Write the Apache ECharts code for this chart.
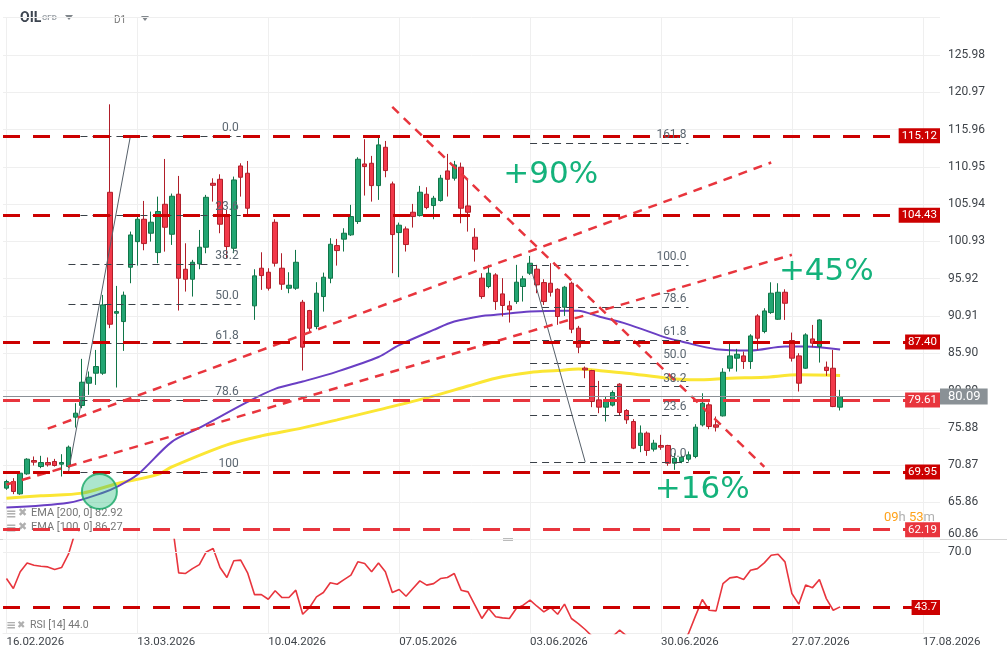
<!DOCTYPE html>
<html><head><meta charset="utf-8">
<script src="https://cdn.jsdelivr.net/npm/echarts@6/dist/echarts.min.js"></script>
<style>html,body{margin:0;padding:0;background:#fff}#c{width:1007px;height:659px}</style>
</head><body><div id="c"></div>
<script>
// ---------------- data ----------------
const priceTicks = ['60.86','65.86','70.87','75.88','80.89','85.90','90.91','95.92','100.93','105.94','110.95','115.96','120.97','125.98'];
const dateLabels = ['16.02.2026','13.03.2026','10.04.2026','07.05.2026','03.06.2026','30.06.2026','27.07.2026','17.08.2026'];
const barCount = 136;
// [open, close, low, high]
const ohlc = [
[67.78,68.67,67.55,68.90],[68.67,67.33,66.97,69.12],[67.01,69.79,66.88,69.92],[69.70,71.67,69.57,71.80],
[71.49,71.27,70.82,72.03],[70.68,71.22,70.46,72.12],[71.22,70.91,70.68,71.90],[71.36,70.82,70.68,71.71],
[71.00,71.22,69.34,72.34],[70.68,73.28,70.46,73.50],[77.31,77.85,75.92,79.19],[78.88,82.01,78.52,85.15],
[81.88,82.68,80.31,83.45],[83.22,84.12,81.65,86.35],[83.22,92.40,83.00,93.74],[107.53,89.80,89.27,119.35],
[91.28,91.50,81.30,94.95],[90.16,93.70,86.22,94.19],[97.46,101.80,95.31,102.25],[100.90,103.91,97.68,104.49],
[103.91,100.64,99.74,106.37],[102.03,103.51,100.90,104.94],[99.43,104.94,98.00,106.95],[105.92,102.83,99.56,112.01],
[101.89,107.00,100.46,107.36],[107.27,95.98,91.64,109.73],[97.19,95.85,94.19,100.68],[95.85,98.13,93.52,98.45],
[97.91,100.15,97.19,102.47],[100.15,106.86,99.34,107.18],[108.74,108.47,106.28,109.41],[109.28,103.24,102.03,109.95],
[104.27,100.24,98.67,105.16],[100.01,109.19,99.34,109.64],[111.07,109.55,106.95,111.43],[110.09,105.39,104.49,111.74],
[92.27,96.30,90.39,97.19],[97.33,96.34,94.42,99.47],[96.79,94.64,94.33,97.33],[103.50,98.00,97.55,103.90],
[97.33,95.18,94.42,99.34],[94.64,95.04,93.97,96.79],[94.64,98.13,94.42,99.79],[92.76,86.72,83.58,93.07],
[91.64,89.27,88.82,91.73],[89.49,93.97,89.13,95.45],[93.52,96.12,91.50,96.74],[95.98,100.55,95.31,101.36],
[100.37,99.70,97.68,101.27],[101.23,102.03,99.57,102.70],[101.81,104.27,101.67,105.84],[103.60,111.97,103.28,112.24],
[111.34,110.99,107.09,114.66],[111.43,108.43,106.28,112.42],[108.43,113.90,106.51,114.93],[113.58,110.45,109.55,114.43],
[108.66,101.85,96.66,108.97],[102.12,103.11,96.12,103.46],[102.61,100.51,99.57,102.93],[104.85,104.27,102.79,105.97],
[104.40,107.54,104.27,108.39],[107.27,105.48,105.25,108.21],[105.75,106.73,103.91,107.05],[106.42,109.42,106.28,109.87],
[110.40,109.28,106.96,112.69],[109.42,111.21,109.10,111.75],[110.90,105.39,103.37,111.52],[105.70,104.85,102.25,109.20],
[101.49,99.88,98.22,102.70],[95.99,93.52,93.21,96.66],[94.87,96.66,94.64,97.78],[96.43,92.85,91.73,96.66],
[93.88,92.32,90.84,95.99],[92.27,91.73,90.03,92.94],[92.85,95.45,92.54,97.78],[94.87,95.90,92.85,96.30],
[96.66,98.00,96.43,98.98],[97.20,95.09,93.97,97.78],[95.40,92.85,92.40,95.85],[95.31,94.10,93.52,98.00],
[94.50,90.84,89.72,94.64],[92.09,94.78,90.92,94.95],[95.31,89.13,88.60,95.54],[89.27,86.72,85.91,89.58],
[83.90,83.67,82.55,84.12],[83.58,79.42,78.66,83.67],[79.64,78.66,77.85,82.19],[78.66,79.55,76.73,80.09],
[78.93,80.63,78.75,80.90],[81.75,77.94,77.49,81.88],[78.21,76.96,76.42,78.39],[76.73,73.15,73.02,77.05],
[73.51,75.17,72.61,76.20],[75.17,72.84,72.12,75.39],[73.02,73.82,72.70,74.27],[73.51,73.28,72.93,74.94],
[73.51,71.13,70.78,73.60],[71.13,71.80,70.24,72.48],[71.36,71.94,71.13,72.25],[71.67,72.25,71.36,72.70],
[72.03,75.97,71.80,76.37],[76.28,79.19,76.06,80.53],[78.97,76.06,75.70,79.28],[76.28,75.97,75.39,77.40],
[77.49,83.35,77.40,83.89],[83.89,85.55,83.44,87.47],[85.24,85.77,83.44,86.49],[85.55,84.79,83.80,86.13],
[84.79,88.23,83.80,88.46],[90.92,87.92,86.35,91.15],[88.82,91.59,88.59,91.95],[91.37,93.97,91.19,95.44],
[90.47,94.10,90.38,95.31],[94.10,92.62,90.38,94.50],[87.61,85.24,84.79,88.68],[85.55,81.88,80.76,85.91],
[83.89,88.37,83.80,88.59],[87.83,87.25,86.71,89.71],[86.80,90.38,84.65,90.47],[84.03,83.58,82.86,84.79],
[83.89,78.74,78.66,86.35],[78.66,80.09,78.21,80.98]
];
// [bar index, value]
const ema200 = [[0,66.42],[5,66.75],[11,67.11],[16,68.36],[22,69.63],[24,70.64],[32,73.6],[37,74.8],[43,75.88],[48,76.95],[54,78.3],[61,79.9],[67,81.5],[71,82.55],[76,83.31],[80,83.58],[83,83.8],[86,83.58],[90,83.23],[96,82.55],[100,82.33],[105,82.55],[110,82.69],[115,83.0],[121,82.92]];
const ema100 = [[0,65.17],[9,65.8],[14,67.15],[16,67.95],[19,69.57],[24,74.0],[28,75.88],[35,79.37],[39,81.12],[43,82.1],[48,83.44],[54,85.4],[57,87.0],[62,89.04],[65,90.16],[69,90.92],[71,91.06],[76,91.5],[81,91.63],[83,91.6],[86,90.83],[90,89.85],[96,87.93],[98,87.47],[103,86.45],[108,86.26],[113,86.8],[116,86.8],[121,86.4]];
const rsi = [57.4,52.7,60.6,64.8,63.7,63.2,62.9,61.7,62.6,68.9,
 79.5,83.0,84.0,85.0,88.0,80.0,80.5,82.0,85.0,86.5,
 84.5,85.5,86.5,84.0,85.0,60.1,59.8,62.1,64.0,70.0,
 71.6,62.6,57.9,65.8,66.1,60.1,49.8,49.8,47.6,51.6,
 48.4,48.4,51.9,40.5,43.7,48.7,50.8,55.4,54.7,56.9,
 59.0,65.3,64.5,60.6,64.8,60.6,50.8,52.2,49.0,52.7,
 56.3,54.3,55.0,57.4,57.9,59.8,51.9,51.1,44.8,38.5,
 43.2,39.3,38.8,38.5,43.2,44.8,47.2,44.3,41.6,43.7,
 40.5,45.3,38.5,36.1,33.3,30.1,29.0,27.5,30.0,33.0,
 30.3,27.0,28.0,26.0,26.5,26.0,24.0,25.0,26.0,31.4,
 39.6,47.5,42.4,42.1,55.0,57.7,58.2,56.9,61.3,62.1,
 64.8,68.4,68.9,65.3,50.3,45.3,54.3,53.1,56.9,47.9,
 42.4,44.0];
const srLevels = [115.12, 104.43, 87.40, 79.61, 69.95, 62.19];
const lastPrice = 80.09;
const rsiLevel = 43.7;
const fib1Labels = ['0.0','23.6','38.2','50.0','61.8','78.6','100'];
const fib1Prices = [115.12,104.46,97.87,92.54,87.21,79.62,69.95];
const fib1Span = [9, 34];
const fib1Anchor = [[9,69.95],[18,115.12]];
const fib2Labels = ['161.8','100.0','78.6','61.8','50.0','38.2','23.6','0.0'];
const fib2Prices = [114.09,97.75,92.09,87.65,84.53,81.41,77.55,71.31];
const fib2Span = [76, 99];
const fib2Anchor = [[76,97.75],[84,71.31]];
const trendLines = [[[6,75.77],[111,111.53]], [[0,68.26],[114,99.13]], [[56,119.0],[110,70.64]]];
const gains = [['+90%',79,109.86],['+45%',119,96.83],['+16%',101,67.55]];
const circlePoint = [14, 67.33];
const legendTexts = ['EMA [200, 0] 82.92','EMA [100, 0] 86.27','RSI [14] 44.0'];

// ---------------- chart ----------------
const cats = Array.from({length: barCount}, (_, i) => String(i));
const DARK = '#cc0000', LIGHT = '#e8353d';
const lightSet = [79.61, 62.19];
const TXT = '#3f444a';
const gridTicks = dateLabels.map((_, i) => i * 19);

const srMarks = srLevels.map(v => {
  const col = lightSet.includes(v) ? LIGHT : DARK;
  return {yAxis: v, lineStyle: {color: col, width: 3, type: [17, 13]},
    label: {show: true, position: 'insideEnd', distance: 0, formatter: v.toFixed(2), color: '#fff',
      backgroundColor: col, padding: [2, 3, 1, 3], fontSize: 11.5, fontFamily: 'Roboto', verticalAlign: 'middle', align: 'right'}};
});
const fibLine = (prices, labels, span) => prices.map((p, i) => [
  {coord: [span[0], p], lineStyle: {color: '#3a4148', width: 1, type: [7, 5]},
   label: {show: true, position: 'insideEndTop', distance: 2, formatter: labels[i], color: '#5b6670', fontSize: 12, fontFamily: 'Roboto'}},
  {coord: [span[1], p]}
]);
const anchorLine = a => [{coord: a[0], lineStyle: {color: '#56606a', width: 1, type: 'solid'}, label: {show: false}}, {coord: a[1]}];
const trendMarks = trendLines.map(t => [{coord: t[0], lineStyle: {color: '#e8353d', width: 2.5, type: [9, 7]}, label: {show: false}}, {coord: t[1]}]);

const option = {
  animation: false,
  backgroundColor: '#fff',
  grid: [
    {left: 3, right: 67, top: 17.7, height: 522},
    {left: 3, right: 67, top: 539.5, height: 94}
  ],
  xAxis: [
    {type: 'category', gridIndex: 0, data: cats, boundaryGap: true,
     axisLine: {show: false}, axisTick: {show: false}, axisLabel: {show: false}, splitLine: {show: false}},
    {type: 'category', gridIndex: 1, data: cats, boundaryGap: true,
     axisLine: {show: true, lineStyle: {color: '#eeeeee'}}, axisTick: {show: false}, splitLine: {show: false},
     axisLabel: {show: true, interval: (i) => i % 19 === 0, formatter: (v, i) => dateLabels[Math.round(i / 19)] || '',
       align: 'left', margin: 3, color: TXT, fontSize: 11.5, fontFamily: 'Roboto'}}
  ],
  yAxis: [
    {type: 'value', gridIndex: 0, position: 'right', min: 60.85, max: 130.99, interval: 5.01, scale: true,
     axisLine: {show: false}, axisTick: {show: false},
     splitLine: {show: true, lineStyle: {color: '#efefef', width: 1}},
     axisLabel: {margin: 8, color: TXT, fontSize: 12, fontFamily: 'Roboto', showMaxLabel: false, verticalAlignMinLabel: 'bottom',
       formatter: v => priceTicks[Math.round((v - 60.85) / 5.01)] || ''}},
    {type: 'value', gridIndex: 1, position: 'right', min: 31.4, max: 75.87, scale: true,
     axisLine: {show: false}, axisTick: {show: false}, splitLine: {show: false}, axisLabel: {show: false}}
  ],
  graphic: [
    {type: 'text', left: 20, top: 11, style: {text: 'OIL', fill: '#3d4550', font: 'bold 14px Roboto'}},
    {type: 'text', left: 42, top: 14, style: {text: 'CFD', fill: '#9aa0a6', font: 'bold 8px Roboto'}},
    {type: 'polygon', shape: {points: [[65, 15], [73, 15], [69, 20]]}, style: {fill: '#80868b'}},
    {type: 'text', left: 114, top: 15, style: {text: 'D1', fill: '#777', font: '10px Roboto'}},
    {type: 'polygon', shape: {points: [[141, 16], [149, 16], [145, 21]]}, style: {fill: '#80868b'}},
    {type: 'line', shape: {x1: 0, y1: 539.5, x2: 1007, y2: 539.5}, style: {stroke: '#d4d4d4', lineWidth: 1}},
    {type: 'rect', shape: {x: 503, y: 538, width: 10, height: 3}, style: {fill: '#bbbbbb'}},
    {type: 'text', left: 6, top: 508, style: {text: '≡', fill: '#b0b0b0', font: 'bold 13px DejaVu Sans'}},
    {type: 'text', left: 18, top: 508, style: {text: '✖', fill: '#b0b0b0', font: '11px DejaVu Sans'}},
    {type: 'text', left: 31, top: 508, style: {text: legendTexts[0], fill: '#777', font: '11px Roboto'}},
    {type: 'text', left: 6, top: 522, style: {text: '≡', fill: '#b0b0b0', font: 'bold 13px DejaVu Sans'}},
    {type: 'text', left: 18, top: 522, style: {text: '✖', fill: '#b0b0b0', font: '11px DejaVu Sans'}},
    {type: 'text', left: 31, top: 522, style: {text: legendTexts[1], fill: '#777', font: '11px Roboto'}},
    {type: 'text', left: 6, top: 620, style: {text: '≡', fill: '#b0b0b0', font: 'bold 12px DejaVu Sans'}},
    {type: 'text', left: 17, top: 620, style: {text: '✖', fill: '#b0b0b0', font: '10px DejaVu Sans'}},
    {type: 'text', left: 30, top: 620, style: {text: legendTexts[2], fill: '#777', font: '10.5px Roboto'}},
    {type: 'text', left: 884, top: 511, style: {text: '{o|09}{g|h }{o|53}{g|m}', rich: {o: {fill: '#ffa21a', font: '13px Roboto'}, g: {fill: '#b0b0b0', font: '13px Roboto'}}}}
  ],
  series: [
    {type: 'line', xAxisIndex: 0, yAxisIndex: 0, data: ema100, symbol: 'none', silent: true, smooth: 0.3,
     lineStyle: {color: '#6a3fc4', width: 2}, z: 3,
     markLine: {silent: true, symbol: ['none', 'none'], z: 1, label: {show: false},
       lineStyle: {color: '#efefef', width: 1, type: 'solid'}, data: gridTicks.map(t => ({xAxis: t}))}},
    {type: 'line', xAxisIndex: 0, yAxisIndex: 0, data: ema200, symbol: 'none', silent: true, smooth: 0.3,
     lineStyle: {color: '#fbe634', width: 3}, z: 2},
    {type: 'candlestick', xAxisIndex: 0, yAxisIndex: 0, data: ohlc, barWidth: 5, z: 4,
     itemStyle: {color: '#22a572', color0: '#f2394a', borderColor: '#107548', borderColor0: '#b01e29', borderWidth: 1},
     markLine: {silent: true, symbol: ['none', 'none'], z: 6,
       data: [
         ...fibLine(fib1Prices, fib1Labels, fib1Span),
         ...fibLine(fib2Prices, fib2Labels, fib2Span),
         anchorLine(fib1Anchor), anchorLine(fib2Anchor),
         ...trendMarks,
         ...srMarks,
         {yAxis: lastPrice, lineStyle: {color: '#8a9096', width: 1, type: 'solid'},
          label: {show: true, position: 'end', distance: 0, formatter: lastPrice.toFixed(2), color: '#fff',
            backgroundColor: '#8a9196', padding: [2, 7, 1, 8], fontSize: 13, fontFamily: 'Roboto', verticalAlign: 'middle', align: 'left'}}
       ]},
     markPoint: {silent: true, symbol: 'circle', symbolSize: 1, itemStyle: {color: 'transparent'},
       label: {show: true, position: 'inside', color: '#14b27b', fontSize: 31, fontFamily: 'DejaVu Sans', formatter: p => p.name},
       data: gains.map(g => ({name: g[0], coord: [g[1], g[2]]}))}},
    {type: 'scatter', xAxisIndex: 0, yAxisIndex: 0, data: [circlePoint], symbolSize: 35, symbolOffset: [-3.5, 0], z: 7, silent: true,
     itemStyle: {color: 'rgba(40,190,125,0.48)', borderColor: '#16a766', borderWidth: 2}},
    {type: 'line', xAxisIndex: 1, yAxisIndex: 1, data: rsi, symbol: 'none', silent: true,
     lineStyle: {color: '#e8353d', width: 1.6}, z: 3,
     markLine: {silent: true, symbol: ['none', 'none'], z: 5,
       data: [
         {yAxis: 70, lineStyle: {color: '#eeeeee', width: 1, type: 'solid'},
          label: {show: true, position: 'end', distance: 8, formatter: '70.0', color: TXT, fontSize: 12, fontFamily: 'Roboto'}},
         {yAxis: rsiLevel, lineStyle: {color: DARK, width: 3, type: [17, 13]},
          label: {show: true, position: 'insideEnd', distance: 0, formatter: rsiLevel.toFixed(1), color: '#fff',
            backgroundColor: DARK, padding: [2, 3, 1, 3], fontSize: 11.5, fontFamily: 'Roboto', verticalAlign: 'middle', align: 'right'}}
       ]}},
    {type: 'line', xAxisIndex: 1, yAxisIndex: 1, data: [], symbol: 'none', silent: true,
     markLine: {silent: true, symbol: ['none', 'none'], z: 1, label: {show: false},
       lineStyle: {color: '#efefef', width: 1, type: 'solid'}, data: gridTicks.map(t => ({xAxis: t}))}}
  ]
};
const chart = echarts.init(document.getElementById('c'), null, {renderer: 'canvas'});
chart.setOption(option);
</script>
</body></html>
